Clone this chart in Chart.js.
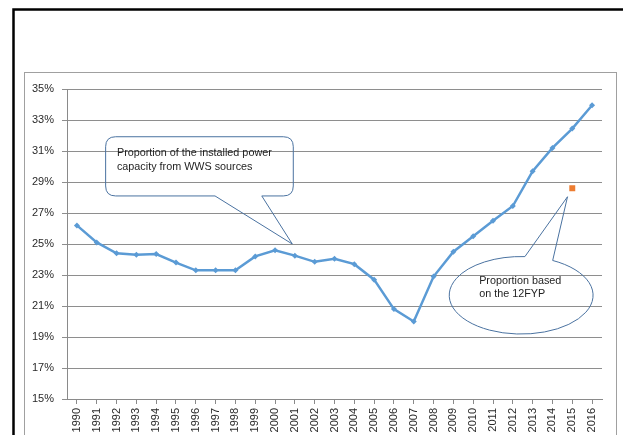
<!DOCTYPE html>
<html>
<head>
<meta charset="utf-8">
<script src="https://cdn.jsdelivr.net/npm/chart.js@4/dist/chart.umd.min.js"></script>
<style>
  html, body { margin: 0; padding: 0; background: #fff; }
  #wrap { width: 623px; height: 435px; position: relative; }
</style>
</head>
<body>
<div id="wrap"><canvas id="chart" width="623" height="435"></canvas></div>
<script>
// ---- data ----
const years = ["1990","1991","1992","1993","1994","1995","1996","1997","1998","1999",
               "2000","2001","2002","2003","2004","2005","2006","2007","2008","2009",
               "2010","2011","2012","2013","2014","2015","2016"];
const wwsShare = [26.2, 25.1, 24.4, 24.3, 24.35, 23.8, 23.3, 23.3, 23.3, 24.2,
                  24.6, 24.25, 23.85, 24.05, 23.7, 22.7, 20.8, 20.0, 22.9, 24.5,
                  25.5, 26.5, 27.45, 29.7, 31.2, 32.45, 33.95];
const fypShare = [null, null, null, null, null, null, null, null, null, null,
                  null, null, null, null, null, null, null, null, null, null,
                  null, null, null, null, null, 28.6, null];
const yTicks = [15, 17, 19, 21, 23, 25, 27, 29, 31, 33, 35];

const boxText = ["Proportion of the installed power", "capacity from WWS sources"];
const ellipseText = ["Proportion based", "on the 12FYP"];

const fontFamily = "'Liberation Sans', Arial, sans-serif";
const textFont = "10.8px " + fontFamily;
const calloutColor = "#4a72a0";

// frames around the chart (as in the screenshot)
const framePlugin = {
    id: "frames",
    beforeDraw(chart) {
        const ctx = chart.ctx;
        ctx.save();
        ctx.strokeStyle = "#a0a0a0";
        ctx.lineWidth = 1;
        ctx.strokeRect(24.5, 72.5, 592, 400);
        ctx.strokeStyle = "#000";
        ctx.lineWidth = 2.5;
        ctx.beginPath();
        ctx.moveTo(13.5, 440);
        ctx.lineTo(13.5, 9.5);
        ctx.lineTo(630, 9.5);
        ctx.stroke();
        ctx.restore();
    }
};

// callout shapes placed in data units through the scales
const calloutPlugin = {
    id: "callouts",
    afterDatasetsDraw(chart) {
        const ctx = chart.ctx;
        const xs = chart.scales.x, ys = chart.scales.y;
        const px = v => xs.getPixelForValue(v);
        const py = v => ys.getPixelForValue(v);
        ctx.save();
        ctx.strokeStyle = calloutColor;
        ctx.lineWidth = 1;

        // rounded box with wedge pointing at 2001
        let l = px(1.45), r = px(10.92), t = py(31.92), b = py(28.1), rad = 10;
        let b1 = px(6.97), b2 = px(9.33), tx = px(10.87), ty = py(25.0);
        ctx.beginPath();
        ctx.moveTo(l + rad, t);
        ctx.lineTo(r - rad, t);
        ctx.quadraticCurveTo(r, t, r, t + rad);
        ctx.lineTo(r, b - rad);
        ctx.quadraticCurveTo(r, b, r - rad, b);
        ctx.lineTo(b2, b);
        ctx.lineTo(tx, ty);
        ctx.lineTo(b1, b);
        ctx.lineTo(l + rad, b);
        ctx.quadraticCurveTo(l, b, l, b - rad);
        ctx.lineTo(l, t + rad);
        ctx.quadraticCurveTo(l, t, l + rad, t);
        ctx.closePath();
        ctx.stroke();

        // ellipse with wedge pointing at the 12FYP point
        const cx = px(22.42), cy = py(21.69);
        const rx = cx - px(22.42 - 3.63), ry = py(21.69 - 2.5) - cy;
        const a1 = -64 * Math.PI / 180, a2 = 273 * Math.PI / 180;
        ctx.beginPath();
        ctx.ellipse(cx, cy, rx, ry, 0, a1, a2);
        ctx.lineTo(px(24.76), py(28.05));
        ctx.closePath();
        ctx.stroke();

        // texts
        ctx.fillStyle = "#1e1e1e";
        ctx.font = textFont;
        ctx.textBaseline = "middle";
        ctx.textAlign = "left";
        ctx.fillText(boxText[0], px(2.02), py(30.89));
        ctx.fillText(boxText[1], px(2.02), py(29.99));
        ctx.fillText(ellipseText[0], px(20.3), py(22.61));
        ctx.fillText(ellipseText[1], px(20.3), py(21.75));
        ctx.restore();
    }
};

new Chart(document.getElementById("chart"), {
    type: "line",
    data: {
        labels: years,
        datasets: [
            {
                label: "WWS share",
                data: wwsShare,
                borderColor: "#5b9bd5",
                backgroundColor: "#5b9bd5",
                borderWidth: 2.5,
                pointStyle: "rectRot",
                pointRadius: 3,
                pointBorderWidth: 0,
                tension: 0
            },
            {
                label: "12FYP",
                data: fypShare,
                showLine: false,
                borderColor: "#ed7d31",
                backgroundColor: "#ed7d31",
                pointStyle: "rect",
                pointRadius: 4.2,
                pointBorderWidth: 0
            }
        ]
    },
    options: {
        responsive: false,
        animation: false,
        layout: { padding: { top: 89, right: 21, left: 0, bottom: 0 } },
        plugins: {
            legend: { display: false },
            tooltip: { enabled: false }
        },
        scales: {
            x: {
                offset: true,
                grid: {
                    drawOnChartArea: false,
                    drawTicks: true,
                    tickLength: 5,
                    color: "#8a8a8a"
                },
                border: { display: true, color: "#8a8a8a" },
                ticks: {
                    autoSkip: false,
                    minRotation: 90,
                    maxRotation: 90,
                    padding: 4,
                    color: "#2a2a2a",
                    font: { family: fontFamily, size: 11 }
                },
                afterFit(scale) { scale.height = 36; }
            },
            y: {
                min: 15,
                max: 35,
                afterBuildTicks(scale) { scale.ticks = yTicks.map(v => ({ value: v })); },
                grid: {
                    color: "#8e8e8e",
                    lineWidth: 1,
                    tickLength: 5
                },
                border: { display: true, color: "#8a8a8a" },
                ticks: {
                    padding: 8,
                    color: "#2a2a2a",
                    font: { family: fontFamily, size: 11 },
                    callback: v => v + "%"
                },
                afterFit(scale) { scale.width = 67; }
            }
        }
    },
    plugins: [framePlugin, calloutPlugin]
});
</script>
</body>
</html>
